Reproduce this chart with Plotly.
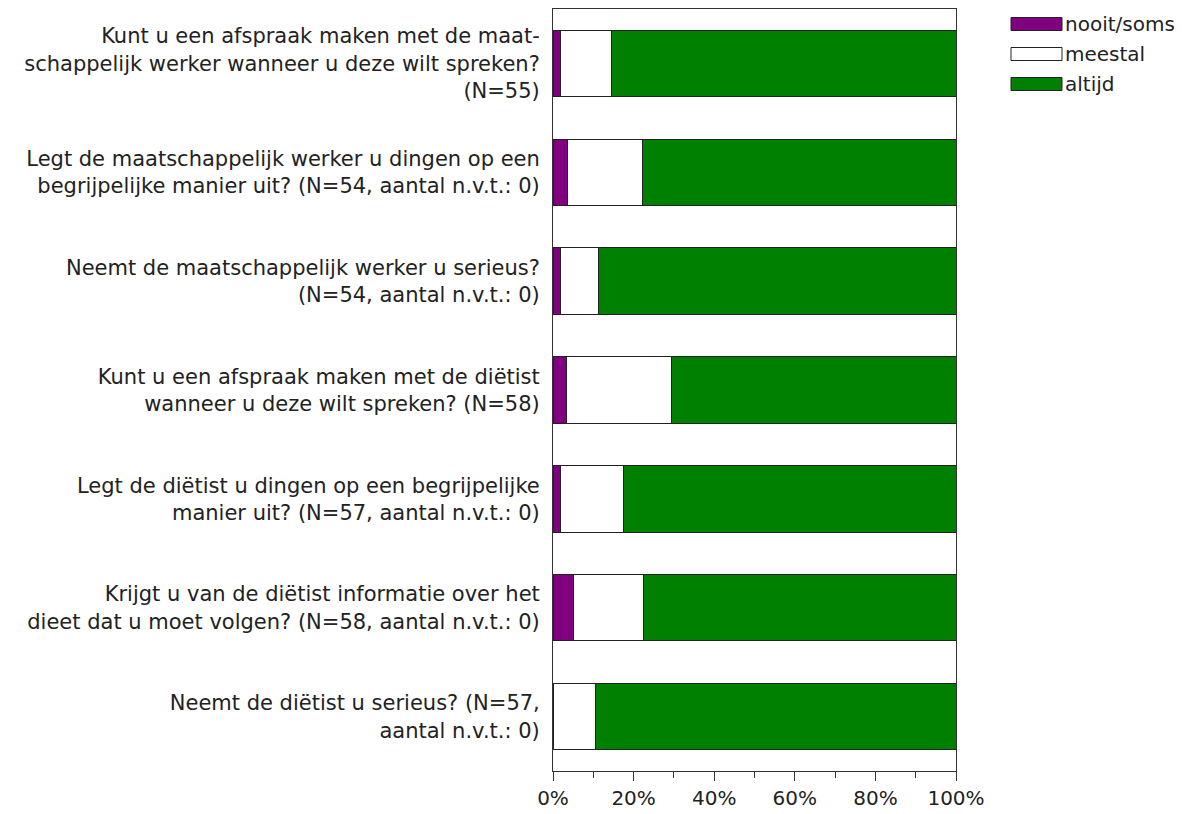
import plotly.graph_objects as go

categories = [
    "Kunt u een afspraak maken met de maat-<br>schappelijk werker wanneer u deze wilt spreken?<br>(N=55)",
    "Legt de maatschappelijk werker u dingen op een<br>begrijpelijke manier uit? (N=54, aantal n.v.t.: 0)",
    "Neemt de maatschappelijk werker u serieus?<br>(N=54, aantal n.v.t.: 0)",
    "Kunt u een afspraak maken met de diëtist<br>wanneer u deze wilt spreken? (N=58)",
    "Legt de diëtist u dingen op een begrijpelijke<br>manier uit? (N=57, aantal n.v.t.: 0)",
    "Krijgt u van de diëtist informatie over het<br>dieet dat u moet volgen? (N=58, aantal n.v.t.: 0)",
    "Neemt de diëtist u serieus? (N=57,<br>aantal n.v.t.: 0)",
]
nooit_soms = [1.8, 3.7, 1.9, 3.4, 1.8, 5.2, 0.0]
meestal = [12.7, 18.5, 9.3, 25.9, 15.8, 17.2, 10.5]
altijd = [85.5, 77.8, 88.8, 70.7, 82.4, 77.6, 89.5]
tick_values = [0, 20, 40, 60, 80, 100]
tick_labels = ["0%", "20%", "40%", "60%", "80%", "100%"]

series = [
    ("nooit/soms", nooit_soms, "#800080"),
    ("meestal", meestal, "#ffffff"),
    ("altijd", altijd, "#008000"),
]

# figure coordinates (page has an 8px body margin)
W, H = 1189, 806
L, R, T, B = 545, 948, 1, 763
font_family = "DejaVu Sans, Verdana, sans-serif"
text_color = "#222222"
edge = "#222222"

fig = go.Figure()
for name, vals, color in series:
    fig.add_trace(go.Bar(
        y=categories, x=vals, name=name, orientation="h",
        marker=dict(color=color, line=dict(color=edge, width=1)),
        width=0.61, hoverinfo="x+name", showlegend=False,
    ))

def px_x(px):
    return (px - L) / (R - L)

def px_y(py):
    return (B - py) / (B - T)

# legend with wide swatches, drawn in paper coordinates
shapes = []
annotations = []
for i, (name, vals, color) in enumerate(series):
    cy = 16 + 30 * i
    shapes.append(dict(type="rect", xref="paper", yref="paper",
                       x0=px_x(1003), x1=px_x(1054), y0=px_y(cy + 6.5), y1=px_y(cy - 6.5),
                       fillcolor=color, line=dict(color=edge, width=1)))
    annotations.append(dict(xref="paper", yref="paper", x=px_x(1055), y=px_y(cy),
                            text=name, showarrow=False, xanchor="left", yanchor="middle",
                            font=dict(family=font_family, size=20, color=text_color)))

fig.update_layout(
    barmode="stack",
    width=W, height=H,
    margin=dict(l=L, r=W - R, t=T, b=H - B, autoexpand=False),
    paper_bgcolor="white", plot_bgcolor="white",
    font=dict(family=font_family, size=20, color=text_color),
    showlegend=False,
    shapes=shapes, annotations=annotations,
)
fig.update_xaxes(
    range=[0, 100], tickvals=tick_values, ticktext=tick_labels,
    ticks="outside", ticklen=9, tickcolor="#333333", tickwidth=1,
    minor=dict(tickvals=[10, 30, 50, 70, 90], ticks="outside", ticklen=6, tickcolor="#333333"),
    showline=True, linecolor="#333333", linewidth=1, mirror=True,
    showgrid=False, zeroline=False, fixedrange=True,
    tickfont=dict(size=20, color=text_color),
)
fig.update_yaxes(
    autorange="reversed", showline=True, linecolor="#333333", linewidth=1,
    mirror=True, showgrid=False, ticks="", ticklabelstandoff=8,
    tickfont=dict(size=21, color=text_color),
)
fig.write_html("out.html")
